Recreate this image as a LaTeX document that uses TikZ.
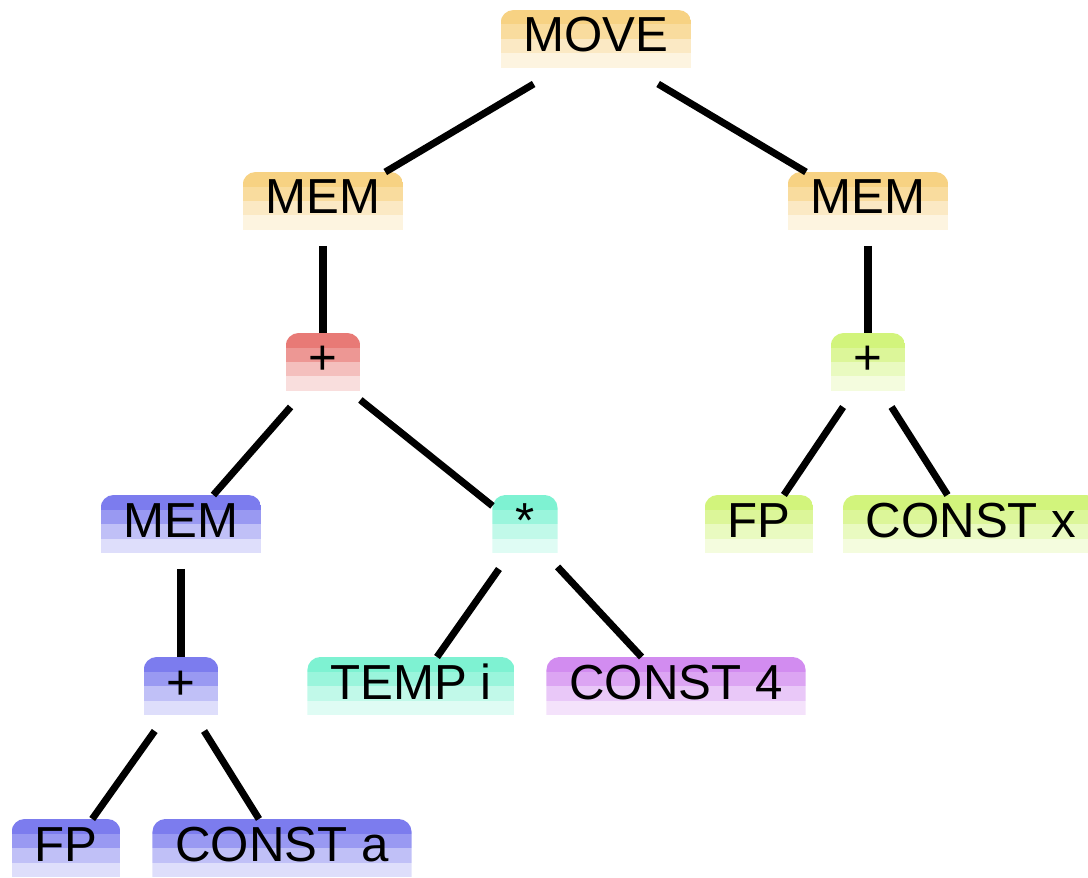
\documentclass[tikz,border=0pt]{standalone}
\usepackage{fontspec}
\usepackage{xcolor}
\usetikzlibrary{calc}

\newfontfamily\alberofont{Liberation Sans}

% ---- colori delle famiglie di nodi ----
\definecolor{arancio}{HTML}{F7D283}
\definecolor{rosso}{HTML}{E87A76}
\definecolor{blu}{HTML}{7C7CEE}
\definecolor{acqua}{HTML}{7EF2D2}
\definecolor{viola}{HTML}{D28CF0}
\definecolor{verde}{HTML}{D2F47C}

% \fasce{colore}: quattro bande sfumate, angoli superiori arrotondati
\newcommand{\fasce}[1]{%
	\coordinate (pnw) at (path picture bounding box.north west);
	\coordinate (pne) at (path picture bounding box.north east);
	\begin{scope}
		\clip ($(pnw)+(0pt,-1.16cm)$) -- ($(pnw)+(0pt,-0.26cm)$)
		arc[start angle=180, end angle=90, radius=0.26cm]
		-- ($(pne)+(-0.26cm,0pt)$)
		arc[start angle=90, end angle=0, radius=0.26cm]
		-- ($(pne)+(0pt,-1.16cm)$) -- cycle;
		\fill[#1]     (pnw) rectangle ($(pne)+(0pt,-0.29cm)$);
		\fill[#1!78]  ($(pnw)+(0pt,-0.29cm)$) rectangle ($(pne)+(0pt,-0.58cm)$);
		\fill[#1!48]  ($(pnw)+(0pt,-0.58cm)$) rectangle ($(pne)+(0pt,-0.87cm)$);
		\fill[#1!25]  ($(pnw)+(0pt,-0.87cm)$) rectangle ($(pne)+(0pt,-1.16cm)$);
	\end{scope}}

\begin{document}
\begin{tikzpicture}[x=0.02cm, y=-0.02cm,
		nodo/.style={font=\alberofont\fontsize{28pt}{30pt}\selectfont,
				inner xsep=0.46cm, inner ysep=0pt, outer sep=0pt,
				text height=0.84cm, text depth=0.64cm,
				path picture={\fasce{#1}}},
		ramo/.style={line width=4pt, black}]

	\useasboundingbox (0,0) rectangle (1088,878);

	% ---- radice e primo livello ----
	\node[nodo=arancio] (move) at (596,47)  {MOVE};
	\node[nodo=arancio] (memL) at (323,209) {MEM};
	\node[nodo=arancio] (memR) at (868,209) {MEM};

	% ---- somme ----
	\node[nodo=rosso] (plusL) at (323,370) {+};
	\node[nodo=verde] (plusR) at (868,370) {+};

	% ---- terzo livello ----
	\node[nodo=blu]   (memA)   at (181,532) {MEM};
	\node[nodo=acqua] (star)   at (525,532) {*};
	\node[nodo=verde] (fpX)    at (759,532) {FP};
	\node[nodo=verde] (constX) at (971,532) {CONST x};

	% ---- quarto livello ----
	\node[nodo=blu]   (plusA)  at (181,694) {+};
	\node[nodo=acqua] (tempI)  at (411,694) {TEMP i};
	\node[nodo=viola] (constF) at (676,694) {CONST 4};

	% ---- foglie in fondo ----
	\node[nodo=blu] (fpA)    at (66,856)  {FP};
	\node[nodo=blu] (constA) at (282,856) {CONST a};

	% ---- rami ----
	\draw[ramo] (move) -- (memL);
	\draw[ramo] (move) -- (memR);
	\draw[ramo] (memL) -- (plusL);
	\draw[ramo] (memR) -- (plusR);
	\draw[ramo] (plusL) -- (memA);
	\draw[ramo] (plusL) -- (star);
	\draw[ramo] (plusR) -- (fpX);
	\draw[ramo] (plusR) -- (constX);
	\draw[ramo] (memA) -- (plusA);
	\draw[ramo] (star) -- (tempI);
	\draw[ramo] (star) -- (constF);
	\draw[ramo] (plusA) -- (fpA);
	\draw[ramo] (plusA) -- (constA);

\end{tikzpicture}
\end{document}
